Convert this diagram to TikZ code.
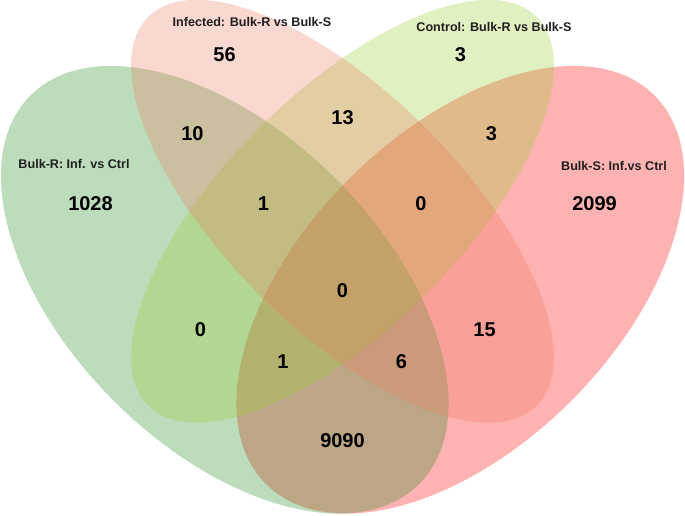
\documentclass[tikz,border=0pt]{standalone}
\usepackage{fontspec}
\setmainfont{Liberation Sans}
\definecolor{setA}{RGB}{34,139,34}
\definecolor{setB}{RGB}{235,125,95}
\definecolor{setC}{RGB}{154,205,50}
\definecolor{setD}{RGB}{255,0,0}
\tikzset{
  vset/.style={fill opacity=0.3, draw=none},
  cnt/.style={font=\fontsize{20}{24}\selectfont\bfseries, text=black, inner sep=0pt},
  setlabel/.style={font=\fontsize{12.6}{15}\selectfont\bfseries, text=black!88, inner sep=0pt}
}
\begin{document}
\begin{tikzpicture}[x=1pt,y=1pt]
\useasboundingbox (0,0) rectangle (685,515);
\clip (0,0) rectangle (685,515);
% ellipses (drawing order D, A, C, B)
\fill[vset, fill=setD, rotate around={45:(460.25,225.25)}] (460.25,225.25) ellipse [x radius=274.75pt, y radius=157pt];
\fill[vset, fill=setA, rotate around={-45:(224.75,225.25)}] (224.75,225.25) ellipse [x radius=274.75pt, y radius=157pt];
\fill[vset, fill=setC, rotate around={45:(342.5,303.75)}] (342.5,303.75) ellipse [x radius=274.75pt, y radius=117.75pt];
\fill[vset, fill=setB, rotate around={-45:(342.5,303.75)}] (342.5,303.75) ellipse [x radius=274.75pt, y radius=117.75pt];
% set labels
\node[setlabel] (labA) at (74,351) {Bulk-R: Inf. vs Ctrl};
\node[setlabel] (labB) at (252,493.5) {Infected: Bulk-R vs Bulk-S};
\node[setlabel] (labC) at (494,488.5) {Control: Bulk-R vs Bulk-S};
\node[setlabel] (labD) at (614,349) {Bulk-S: Inf.vs Ctrl};
% counts
\node[cnt] (nB) at (224.5,460) {56};
\node[cnt] (nC) at (460.5,460) {3};
\node[cnt] (nAB) at (192.5,381) {10};
\node[cnt] (nBC) at (342.5,397) {13};
\node[cnt] (nCD) at (491.5,381) {3};
\node[cnt] (nA) at (90.5,311) {1028};
\node[cnt] (nD) at (594.5,311) {2099};
\node[cnt] (nABC) at (263.5,311) {1};
\node[cnt] (nBCD) at (421,311) {0};
\node[cnt] (nABCD) at (342.5,224) {0};
\node[cnt] (nAC) at (200.5,185) {0};
\node[cnt] (nBD) at (484.5,185) {15};
\node[cnt] (nACD) at (283,153) {1};
\node[cnt] (nABD) at (401.5,153) {6};
\node[cnt] (nAD) at (342.5,74) {9090};
\end{tikzpicture}
\end{document}
